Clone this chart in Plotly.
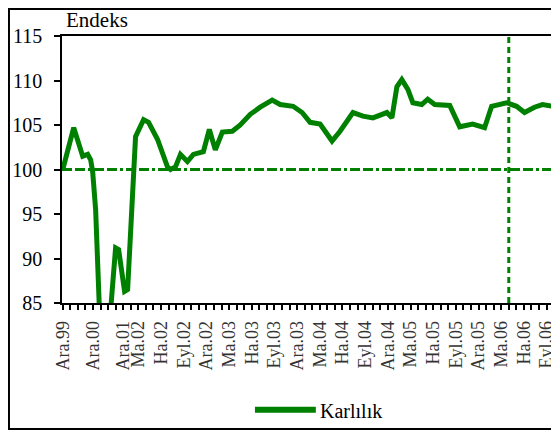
import plotly.graph_objects as go

# Karlilik endeksi (period index on the category axis, index value)
period = [0, 1.45, 2.64, 3.3, 3.69, 3.96, 4.35, 4.62, 4.95, 5.5, 6.1, 6.5,
          6.99, 7.39, 8.18, 8.58, 8.97, 9.37, 9.63, 10.69, 11.35, 12.53, 13.19,
          13.85, 14.25, 14.91, 15.57, 16.49, 17.28, 18.6, 19.39, 20.18, 21.11,
          22.43, 23.48, 24.8, 26.12, 27.7, 28.76, 30.47, 31.66, 32.72, 34.04,
          35.62, 36.68, 38.39, 39.71, 41.03, 42.88, 43.54, 44.2, 44.85, 45.65,
          46.31, 47.49, 48.28, 49.21, 51.19, 52.51, 54.22, 55.8, 56.73, 58.71,
          60.03, 61.08, 62.4, 63.46, 64.78]
karlilik = [100, 104.7, 101.5, 101.7, 101.1, 99.7, 95.5, 89.9, 82, 80, 81.5, 86,
            91.2, 91, 86.3, 86.5, 93.6, 100, 103.7, 105.6, 105.3, 103.4, 101.9,
            100.3, 100, 100.3, 101.7, 100.9, 101.7, 102, 104.5, 102.2, 104.2,
            104.3, 105.0, 106.2, 107, 107.8, 107.3, 107.1, 106.4, 105.3, 105.1,
            103.2, 104.3, 106.4, 106, 105.8, 106.4, 105.8, 109.3, 110.1, 109,
            107.5, 107.3, 107.9, 107.3, 107.2, 104.8, 105.1, 104.7, 107.1, 107.5,
            107.1, 106.4, 107, 107.3, 107.1]

tick_pos = [0, 4, 8, 10, 13, 16, 19, 22, 25, 28, 31, 34, 37, 40, 43, 46, 49,
            52, 55, 58, 61, 64]
tick_text = ["Ara.99", "Ara.00", "Ara.01", "Ma.02", "Ha.02", "Eyl.02", "Ara.02",
             "Ma.03", "Ha.03", "Eyl.03", "Ara.03", "Ma.04", "Ha.04", "Eyl.04",
             "Ara.04", "Ma.05", "Ha.05", "Eyl.05", "Ara.05", "Ma.06", "Ha.06",
             "Eyl.06"]

base_level = 100
marker_period = 59

green = "#008000"
serif = '"Liberation Serif", "Times New Roman", Times, serif'

fig = go.Figure()
fig.add_trace(go.Scatter(x=period, y=karlilik, mode="lines", name="Karlılık",
                         line=dict(color=green, width=5), showlegend=False))

# reference lines
fig.add_shape(type="line", xref="paper", yref="y", x0=0, x1=1,
              y0=base_level, y1=base_level,
              line=dict(color=green, width=3, dash="10px,3px,10px,3px,3px,3px"))
fig.add_shape(type="line", xref="x", yref="paper", x0=marker_period,
              x1=marker_period, y0=0, y1=1,
              line=dict(color=green, width=3, dash="6px,4px"))

# outer frame
fig.add_shape(type="rect", xref="paper", yref="paper", x0=-0.108, x1=1.006,
              y0=-0.472, y1=1.101, line=dict(color="black", width=2),
              layer="below")

# legend drawn by hand so it doesn't push the margins
fig.add_shape(type="line", xref="paper", yref="paper", x0=0.393, x1=0.517,
              y0=-0.40, y1=-0.40, line=dict(color=green, width=6))
fig.add_annotation(text="Karlılık", xref="paper", yref="paper", x=0.522,
                   y=-0.405, xanchor="left", yanchor="middle", showarrow=False,
                   font=dict(family=serif, size=20, color="black"))

fig.add_annotation(text="Endeks", xref="paper", yref="paper", x=0.005, y=1.06,
                   xanchor="left", yanchor="middle", showarrow=False,
                   font=dict(family=serif, size=21, color="black"))

fig.update_xaxes(range=[-0.1, 64.85], tickmode="array", tickvals=tick_pos,
                 ticktext=tick_text, tickangle=-90, ticks="outside", ticklen=5,
                 tickwidth=1.5, tickcolor="black", showgrid=False,
                 zeroline=False, showline=True, linecolor="black", linewidth=1.5,
                 mirror=True, ticklabelstandoff=4,
                 tickfont=dict(family=serif, size=18, color="#333"),
                 minor=dict(tickmode="linear", tick0=0, dtick=1, ticks="outside",
                            ticklen=5, tickwidth=1.5, tickcolor="black",
                            showgrid=False))
fig.update_yaxes(range=[85, 115], dtick=5, ticks="outside", ticklen=6,
                 tickwidth=2, tickcolor="black", showgrid=False, zeroline=False,
                 showline=True, linecolor="black", linewidth=1.5, mirror=True,
                 ticklabelstandoff=8,
                 tickfont=dict(family=serif, size=20, color="black"))

# the page puts the figure 8px in from the top-left corner
fig.update_layout(
    width=551, height=424,
    margin=dict(l=54, r=6, t=28, b=129, autoexpand=False),
    plot_bgcolor="white", paper_bgcolor="white",
    showlegend=False,
)

fig.write_html("out.html")
